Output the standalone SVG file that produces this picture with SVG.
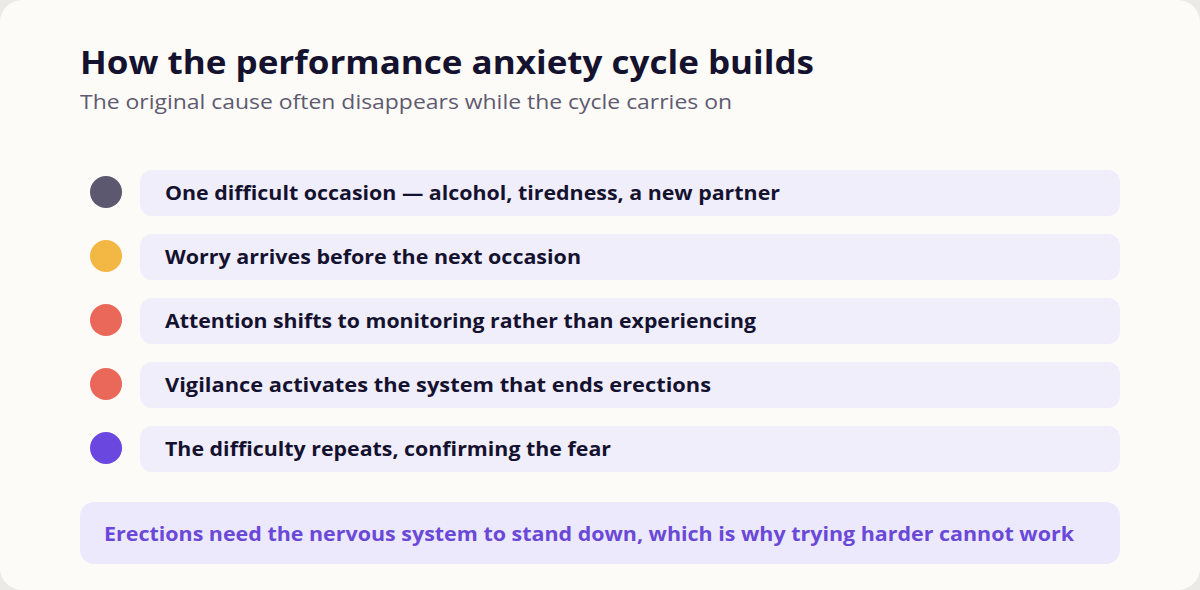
<svg xmlns="http://www.w3.org/2000/svg" width="1200" height="590" viewBox="0 0 1200 590">
<style>
.t{font-family:"Open Sans","Liberation Sans",sans-serif;font-weight:700;fill:#14122e}
.row{fill:#F1EEFC}
.lab{font-family:"Open Sans","Liberation Sans",sans-serif;font-weight:700;font-size:19px;fill:#14122e}
</style>
<rect width="1200" height="590" fill="#ECEAE6"/>
<rect x="0" y="0" width="1200" height="590" rx="22" fill="#FDFBF7"/>
<text class="t" x="80" y="74" font-size="32" textLength="734" lengthAdjust="spacingAndGlyphs">How the performance anxiety cycle builds</text>
<text x="80" y="109" font-family="'Open Sans','Liberation Sans',sans-serif" font-size="20" fill="#5e5a70" textLength="652" lengthAdjust="spacingAndGlyphs">The original cause often disappears while the cycle carries on</text>
<g id="step1"><circle cx="106" cy="192" r="16" fill="#5B5870"/><rect class="row" x="140" y="170" width="980" height="46" rx="12"/><text class="lab" x="165" y="200" textLength="615" lengthAdjust="spacingAndGlyphs">One difficult occasion — alcohol, tiredness, a new partner</text></g>
<g id="step2"><circle cx="106" cy="256" r="16" fill="#F2B843"/><rect class="row" x="140" y="234" width="980" height="46" rx="12"/><text class="lab" x="165" y="264" textLength="416" lengthAdjust="spacingAndGlyphs">Worry arrives before the next occasion</text></g>
<g id="step3"><circle cx="106" cy="320" r="16" fill="#E9685A"/><rect class="row" x="140" y="298" width="980" height="46" rx="12"/><text class="lab" x="165" y="328" textLength="591" lengthAdjust="spacingAndGlyphs">Attention shifts to monitoring rather than experiencing</text></g>
<g id="step4"><circle cx="106" cy="384" r="16" fill="#E9685A"/><rect class="row" x="140" y="362" width="980" height="46" rx="12"/><text class="lab" x="165" y="392" textLength="546" lengthAdjust="spacingAndGlyphs">Vigilance activates the system that ends erections</text></g>
<g id="step5"><circle cx="106" cy="448" r="16" fill="#6A48E0"/><rect class="row" x="140" y="426" width="980" height="46" rx="12"/><text class="lab" x="165" y="456" textLength="446" lengthAdjust="spacingAndGlyphs">The difficulty repeats, confirming the fear</text></g>
<g id="note"><rect x="80" y="502" width="1040" height="62" rx="14" fill="#ECE9FC"/><text x="104" y="541" font-family="'Open Sans','Liberation Sans',sans-serif" font-weight="700" font-size="20" fill="#6A48D8" textLength="970" lengthAdjust="spacingAndGlyphs">Erections need the nervous system to stand down, which is why trying harder cannot work</text></g>
<g id="connectors"/>
</svg>
